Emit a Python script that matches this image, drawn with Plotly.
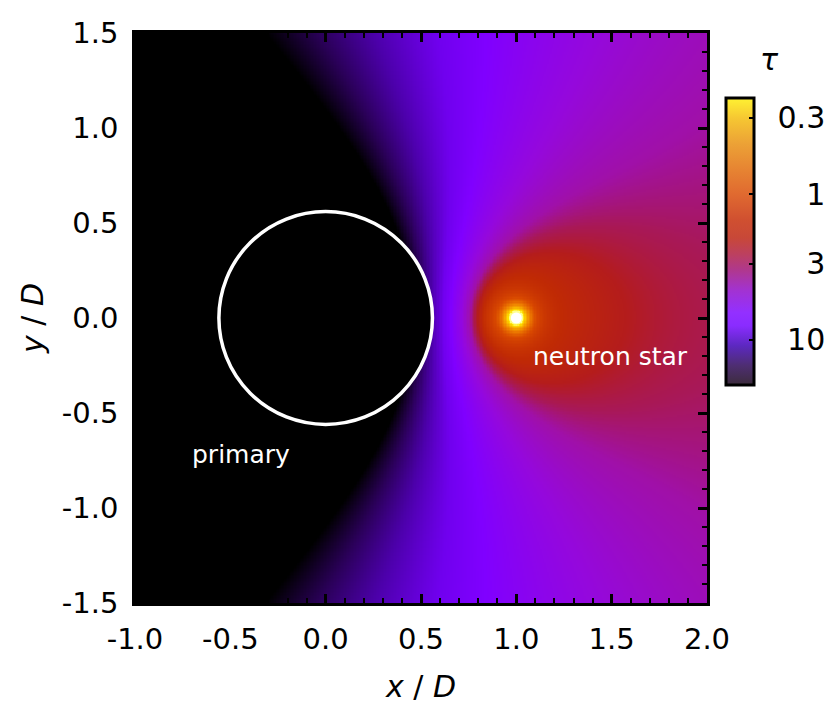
import numpy as np
import plotly.graph_objects as go

# Binary geometry, lengths in units of the orbital separation D
PRIMARY_RADIUS = 0.56
NS_X = 1.0
NS_Y = 0.0

# Primary wind: density falls as r^-DENSITY_INDEX; optical depth per unit D at the orbit
TAU_AT_ORBIT = 5.9
DENSITY_INDEX = 4.0

# Gas bound to the neutron star: saturating optical depth and core radius
TAU_CLOUD = 1.7
CLOUD_CORE = 0.09

# X-ray ionised zone around the neutron star (xi ~ r^XI_INDEX / d^2)
XI_INDEX = 3.25
XI_CRIT = 9.0
XI_STEEPNESS = 3.2

X_RANGE = [-1.0, 2.0]
Y_RANGE = [-1.5, 1.5]
GRID_N = 401
RAY_STEPS = 256

X_TICKS = [-1.0, -0.5, 0.0, 0.5, 1.0, 1.5, 2.0]
X_TICK_LABELS = ["-1.0", "-0.5", "0.0", "0.5", "1.0", "1.5", "2.0"]
Y_TICKS = [-1.5, -1.0, -0.5, 0.0, 0.5, 1.0, 1.5]
Y_TICK_LABELS = ["-1.5", "-1.0", "-0.5", "0.0", "0.5", "1.0", "1.5"]

# Colour bar range and ticks (tau)
TAU_MIN = 0.22
TAU_MAX = 20.4
TAU_TICKS = [0.3, 1, 3, 10]
TAU_TICK_LABELS = ["0.3", "1", "3", "10"]
TAU_TICK_PADS = ["\u2008\u2009", "\u2008\u2009\u2007\u2008", "\u2008\u2009\u2007\u2008", "\u2008\u2009\u2008"]

# Colour table, from optically thick (bottom) to thin (top)
TAU_STOPS = [20.4, 15, 11, 8, 6.5, 4.6, 3.3, 2.6, 2.0, 1.5, 1.0, 0.7, 0.45, 0.3, 0.22]
MAP_COLORS = ["#000000", "#2a0058", "#4c00aa", "#7000ee", "#8000ff", "#9508dc",
              "#a010a8", "#a81858", "#b41c1c", "#c02a04", "#d84800", "#ec7800",
              "#f8b000", "#ffe400", "#ffff90"]
BAR_COLORS = ["#3c2c3c", "#4e2e72", "#5c28c0", "#8a2cff", "#9330ff", "#a232d2",
              "#b0388c", "#bc4060", "#c84838", "#d05030", "#e06a30", "#e68232",
              "#eca236", "#f6c832", "#fff232"]

FONT = "DejaVu Sans, Verdana, sans-serif"

# ---- optical depth seen from the neutron star at every grid point ----
xs = np.linspace(X_RANGE[0], X_RANGE[1], GRID_N)
ys = np.linspace(Y_RANGE[0], Y_RANGE[1], GRID_N)
X, Y = np.meshgrid(xs, ys)
dx = X - NS_X
dy = Y - NS_Y
dist = np.hypot(dx, dy)
r_pt = np.hypot(X, Y)

# wind column along the ray neutron star -> point
column = np.zeros_like(X)
for k in range(RAY_STEPS):
    t = (k + 0.5) / RAY_STEPS
    r = np.hypot(NS_X + t * dx, NS_Y + t * dy)
    column += np.maximum(r, PRIMARY_RADIUS) ** (-DENSITY_INDEX)
tau_wind = TAU_AT_ORBIT * column * dist / RAY_STEPS

# wind opacity is switched off inside the ionised zone
xi = r_pt ** XI_INDEX / np.maximum(dist, 1e-6) ** 2
neutral = 1.0 / (1.0 + (xi / XI_CRIT) ** XI_STEEPNESS)

tau_cloud = TAU_CLOUD * dist ** 2 / (dist ** 2 + CLOUD_CORE ** 2)
tau = tau_cloud + neutral * tau_wind

# rays that hit the primary are fully blocked
dd = dx * dx + dy * dy
tc = np.clip(-(NS_X * dx + NS_Y * dy) / np.where(dd > 0, dd, 1.0), 0.0, 1.0)
dmin = np.hypot(NS_X + tc * dx, NS_Y + tc * dy)
blocked = dmin < PRIMARY_RADIUS

z = -np.log10(np.clip(tau, 1e-4, None))
z[blocked] = np.nan
z = np.round(z, 4)

zmin = -np.log10(TAU_MAX)
zmax = -np.log10(TAU_MIN)


def scale(colors):
    span = np.log10(TAU_MAX) - np.log10(TAU_MIN)
    return [[float((np.log10(TAU_MAX) - np.log10(s)) / span), c] for s, c in zip(TAU_STOPS, colors)]


fig = go.Figure()
fig.add_trace(go.Heatmap(
    x=xs, y=ys, z=z, colorscale=scale(MAP_COLORS), zmin=zmin, zmax=zmax,
    showscale=False, hoverinfo="skip",
))

# colour bar key
fig.add_trace(go.Scatter(
    x=[None, None], y=[None, None], mode="markers", hoverinfo="skip", showlegend=False,
    marker=dict(
        color=[zmin, zmax], colorscale=scale(BAR_COLORS), cmin=zmin, cmax=zmax,
        showscale=True,
        colorbar=dict(
            tickvals=[-np.log10(t) for t in TAU_TICKS],
            ticktext=[p + s for p, s in zip(TAU_TICK_PADS, TAU_TICK_LABELS)],
            ticks="inside", ticklen=6, tickwidth=2, tickcolor="black",
            tickfont=dict(family=FONT, size=30, color="black"),
            outlinewidth=3, outlinecolor="black",
            thickness=28, thicknessmode="pixels",
            len=287, lenmode="pixels",
            x=1.033, xanchor="left", y=0.634, yanchor="middle",
            xpad=0, ypad=0,
        ),
    ),
))

# neutron star
fig.add_trace(go.Scatter(
    x=[NS_X], y=[NS_Y], mode="markers", hoverinfo="skip", showlegend=False,
    marker=dict(color="white", size=11, line=dict(width=0)),
))

# primary star outline
fig.add_shape(type="circle", xref="x", yref="y",
              x0=-PRIMARY_RADIUS, x1=PRIMARY_RADIUS, y0=-PRIMARY_RADIUS, y1=PRIMARY_RADIUS,
              line=dict(color="white", width=3.5))

fig.add_annotation(x=-0.445, y=-0.72, xref="x", yref="y", text="primary", showarrow=False,
                   font=dict(family=FONT, size=25, color="white"))
fig.add_annotation(x=1.495, y=-0.205, xref="x", yref="y", text="neutron star", showarrow=False,
                   font=dict(family=FONT, size=25, color="white"))
fig.add_annotation(x=1.11, y=0.953, xref="paper", yref="paper", text="<i>τ</i>", showarrow=False,
                   xanchor="center", yanchor="middle",
                   font=dict(family=FONT, size=30, color="black"))

axis_common = dict(
    showgrid=False, zeroline=False, showline=True, linewidth=2.5, linecolor="black",
    mirror="allticks", ticks="inside", ticklen=9, tickwidth=2.5, tickcolor="black",
    tickfont=dict(family=FONT, size=29, color="black"),
    minor=dict(dtick=0.1, ticks="inside", ticklen=5, tickwidth=2, tickcolor="black"),
)

fig.update_xaxes(range=X_RANGE, tickvals=X_TICKS, ticktext=X_TICK_LABELS,
                 title=dict(text="<i>x</i> / <i>D</i>", font=dict(family=FONT, size=30, color="black"),
                            standoff=22),
                 ticklabelstandoff=8, automargin=False, **axis_common)
fig.update_yaxes(range=Y_RANGE, tickvals=Y_TICKS, ticktext=Y_TICK_LABELS,
                 title=dict(text="<i>y</i> / <i>D</i>", font=dict(family=FONT, size=30, color="black"),
                            standoff=10),
                 ticklabelstandoff=8, automargin=False, **axis_common)

fig.update_layout(
    width=831, height=711,
    margin=dict(l=135, r=124, t=33, b=108, autoexpand=False),
    paper_bgcolor="white", plot_bgcolor="black",
    showlegend=False,
)

fig.write_html("out.html")
